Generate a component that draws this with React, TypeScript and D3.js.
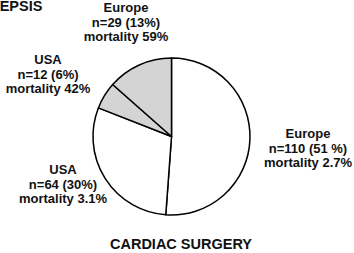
import React from 'react';
import * as d3 from 'd3';

// slice order: clockwise from 12 o'clock
const groups = ['Europe cardiac', 'USA cardiac', 'USA sepsis', 'Europe sepsis'];
const counts = [110, 64, 12, 29];
const kinds = ['cardiac', 'cardiac', 'sepsis', 'sepsis'];
const labelLines = [
  ['Europe', 'n=110 (51 %)', 'mortality 2.7%'],
  ['USA', 'n=64 (30%)', 'mortality 3.1%'],
  ['USA', 'n=12 (6%)', 'mortality 42%'],
  ['Europe', 'n=29 (13%)', 'mortality 59%'],
];

const W = 354;
const H = 253;
const cx = 171.5;
const cy = 136.5;
const radius = 78.5;
const font = '"Liberation Sans", Arial, Helvetica, sans-serif';

// label anchor (centre x, first baseline y)
const labelPos: [number, number][] = [
  [308, 138],
  [63, 174],
  [48, 64],
  [126, 12],
];

const App: React.FC = () => {
  const pie = d3.pie<number>().sort(null).value(d => d);
  const arcs = pie(counts);
  const arc = d3.arc<d3.PieArcDatum<number>>().innerRadius(0).outerRadius(radius);
  const fill = d3.scaleOrdinal<string, string>().domain(['cardiac', 'sepsis']).range(['#ffffff', '#d4d4d4']);

  return (
    <svg width={W} height={H} style={{ position: 'absolute', left: 0, top: 0 }}>
      <rect width={W} height={H} fill="#fff" />
      <g transform={`translate(${cx},${cy})`}>
        {arcs.map((a, i) => (
          <path
            key={groups[i]}
            d={arc(a) || ''}
            fill={fill(kinds[i])}
            stroke="#000"
            strokeWidth={1.5}
            strokeLinejoin="round"
          />
        ))}
      </g>
      {labelLines.map((lines, i) => (
        <text
          key={i}
          x={labelPos[i][0]}
          y={labelPos[i][1]}
          textAnchor="middle"
          fontFamily={font}
          fontWeight="bold"
          fontSize={13}
          fill="#111"
        >
          {lines.map((l, j) => (
            <tspan key={j} x={labelPos[i][0]} dy={j === 0 ? 0 : 14.5}>{l}</tspan>
          ))}
        </text>
      ))}
      <text x={-10} y={11} fontFamily={font} fontWeight="bold" fontSize={14.5} fill="#111">SEPSIS</text>
      <text x={181} y={249} textAnchor="middle" fontFamily={font} fontWeight="bold" fontSize={14.5} fill="#111">CARDIAC SURGERY</text>
    </svg>
  );
};

export default App;
